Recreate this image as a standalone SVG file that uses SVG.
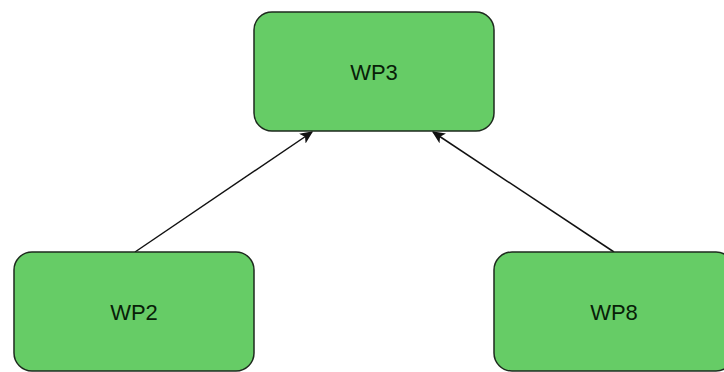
<svg xmlns="http://www.w3.org/2000/svg" width="724" height="372" viewBox="0 0 724 372">
<style>
.node rect{fill:#66cc66;stroke:#1e2a1e;stroke-width:1.5}
.node text{font-family:"Liberation Sans",Arial,sans-serif;font-size:22px;fill:#082008;text-anchor:middle}
.edge{stroke:#111;stroke-width:1.5;fill:none;marker-end:url(#arr)}
</style>
<defs>
<marker id="arr" viewBox="0 0 10 10" refX="9" refY="5" markerWidth="13" markerHeight="13" markerUnits="userSpaceOnUse" orient="auto">
<path d="M0,0.5 L10,5 L0,9.5 L2.5,5 Z" fill="#111"/>
</marker>
</defs>
<rect width="724" height="372" fill="#fff"/>
<g id="connectors">
<line class="edge" x1="135" y1="252" x2="312" y2="132"/>
<line class="edge" x1="614" y1="252" x2="433" y2="132"/>
</g>
<g id="WP3" class="node">
<rect x="254" y="12" width="240" height="119" rx="18"/>
<text x="374" y="80">WP3</text>
</g>
<g id="WP2" class="node">
<rect x="14" y="252" width="240" height="119" rx="18"/>
<text x="134" y="320">WP2</text>
</g>
<g id="WP8" class="node">
<rect x="494" y="252" width="240" height="119" rx="18"/>
<text x="614" y="320">WP8</text>
</g>
</svg>
